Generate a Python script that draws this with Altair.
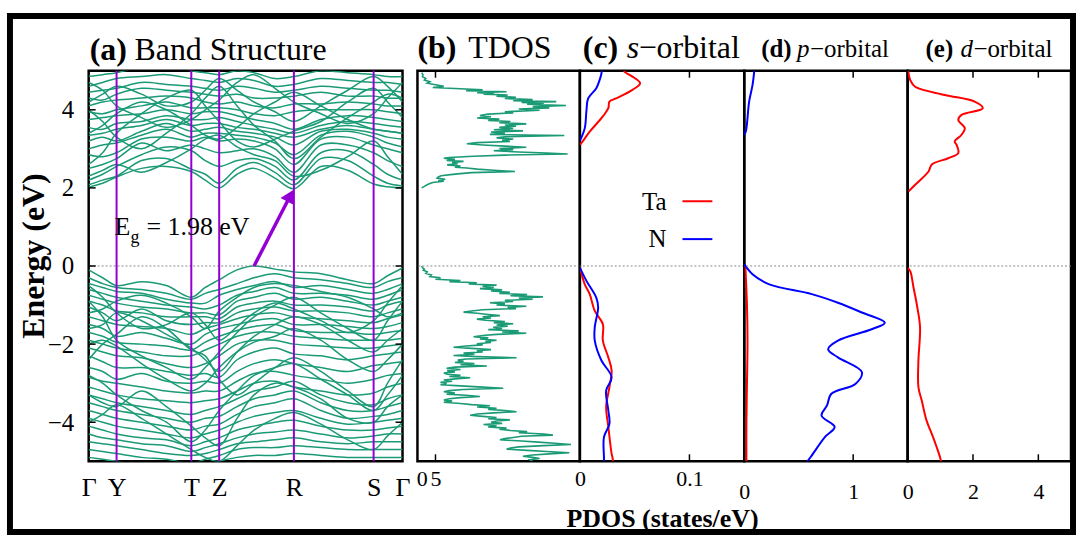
import math
import altair as alt
import pandas as pd

FONT = "Liberation Serif"
GREEN = "#1b9a76"
PURPLE = "#9400d3"
RED = "#ff0000"
BLUE = "#0000ff"

# ---------------- band structure data ----------------
k_pos = [0, 14, 28, 53, 78, 103, 117, 131, 149, 166, 187, 206, 233, 260, 286, 300, 315]
sym_pos = [0, 28, 103, 131, 206, 286, 315]
sym_lab = ["Γ", "Y", "T", "Z", "R", "S", "Γ"]

cb_bands = [
    [2.02, 2.12, 2.28, 2.50, 2.55, 2.42, 2.20, 2.00, 2.35, 2.50, 2.25, 1.98, 2.55, 2.45, 2.10, 2.03, 2.00],
    [2.08, 2.20, 2.30, 2.70, 2.75, 2.48, 2.35, 2.12, 2.50, 2.65, 2.40, 2.08, 2.75, 2.70, 2.30, 2.12, 2.05],
    [2.20, 2.35, 2.55, 2.85, 3.05, 2.95, 2.70, 2.55, 2.70, 2.75, 2.55, 2.20, 2.90, 2.95, 2.60, 2.35, 2.20],
    [2.50, 2.60, 2.75, 3.15, 2.95, 3.10, 3.00, 2.90, 2.95, 3.00, 2.80, 2.40, 3.10, 3.10, 2.90, 2.70, 2.55],
    [2.85, 2.80, 2.90, 3.25, 3.30, 3.20, 3.30, 3.20, 3.25, 3.20, 3.00, 2.60, 3.25, 3.30, 3.10, 3.00, 2.90],
    [3.00, 3.10, 3.15, 3.35, 3.50, 3.30, 3.40, 3.40, 3.35, 3.30, 3.15, 2.85, 3.35, 3.45, 3.30, 3.15, 3.05],
    [3.20, 3.30, 3.20, 3.45, 3.65, 3.45, 3.50, 3.55, 3.45, 3.40, 3.30, 3.10, 3.45, 3.50, 3.40, 3.30, 3.25],
    [3.35, 3.40, 3.50, 3.60, 3.75, 3.60, 3.65, 3.65, 3.55, 3.50, 3.40, 3.30, 3.50, 3.60, 3.50, 3.45, 3.40],
    [3.55, 3.50, 3.65, 3.70, 3.85, 3.75, 3.75, 3.80, 3.70, 3.60, 3.50, 3.40, 3.60, 3.70, 3.65, 3.60, 3.55],
    [3.75, 3.80, 3.85, 3.90, 4.00, 3.90, 3.95, 3.95, 3.85, 3.75, 3.65, 3.50, 3.75, 3.85, 3.80, 3.75, 3.70],
    [3.95, 3.90, 4.00, 4.10, 4.20, 4.05, 4.05, 4.05, 4.00, 3.90, 3.85, 3.95, 4.00, 4.00, 4.00, 3.95, 3.90],
    [4.10, 4.20, 4.25, 4.30, 4.35, 4.30, 4.20, 4.15, 4.20, 4.10, 4.05, 4.15, 4.15, 4.20, 4.15, 4.10, 4.10],
    [4.30, 4.25, 4.40, 4.55, 4.50, 4.45, 4.40, 4.35, 4.40, 4.30, 4.30, 4.35, 4.45, 4.35, 4.35, 4.30, 4.30],
    [4.45, 4.50, 4.55, 4.70, 4.65, 4.60, 4.55, 4.50, 4.60, 4.55, 4.45, 4.50, 4.60, 4.55, 4.50, 4.50, 4.45],
    [4.60, 4.70, 4.80, 4.85, 4.90, 4.80, 4.75, 4.70, 4.80, 4.75, 4.60, 4.65, 4.80, 4.75, 4.70, 4.70, 4.65],
    [4.85, 4.90, 4.95, 5.10, 5.20, 5.00, 4.95, 4.90, 5.00, 4.95, 4.80, 4.85, 5.00, 4.95, 4.90, 4.85, 4.85],
    [4.00, 3.70, 3.30, 3.00, 3.40, 3.90, 4.30, 4.60, 4.10, 3.60, 3.20, 2.75, 3.30, 3.80, 4.20, 4.40, 4.30],
    [2.60, 2.90, 3.40, 3.90, 4.30, 4.50, 4.10, 3.70, 3.20, 3.05, 3.25, 3.45, 3.70, 4.20, 4.55, 4.20, 3.80],
    [4.70, 4.50, 4.10, 3.80, 3.55, 3.75, 4.00, 4.25, 4.70, 4.90, 4.55, 4.20, 3.90, 3.65, 3.90, 4.30, 4.70],
    [3.40, 3.60, 3.90, 4.20, 4.00, 3.60, 3.35, 3.25, 3.55, 3.90, 4.20, 4.45, 4.10, 3.75, 3.50, 3.45, 3.40],
    [2.30, 2.45, 2.60, 2.40, 2.65, 3.00, 3.25, 3.35, 3.05, 2.85, 2.70, 2.30, 2.45, 2.80, 3.20, 2.80, 2.35],
    [4.20, 4.40, 4.60, 4.40, 4.10, 4.20, 4.50, 4.80, 4.50, 4.20, 3.95, 3.70, 4.10, 4.50, 4.85, 4.60, 4.20],
]

vb_bands = [
    [-0.10, -0.30, -0.50, -0.40, -0.50, -0.80, -0.55, -0.35, -0.10, 0.00, -0.08, -0.15, -0.20, -0.35, -0.45, -0.25, -0.05],
    [-0.30, -0.45, -0.55, -0.60, -0.70, -0.85, -0.70, -0.60, -0.45, -0.30, -0.20, -0.30, -0.35, -0.45, -0.55, -0.40, -0.30],
    [-0.45, -0.55, -0.65, -0.70, -0.85, -0.95, -0.95, -0.75, -0.60, -0.50, -0.40, -0.55, -0.50, -0.60, -0.70, -0.60, -0.45],
    [-0.60, -0.70, -0.80, -0.90, -1.00, -1.05, -1.10, -1.00, -0.75, -0.65, -0.55, -0.70, -0.70, -0.75, -0.85, -0.75, -0.60],
    [-0.75, -0.85, -0.95, -1.05, -1.10, -1.20, -1.20, -1.25, -0.90, -0.80, -0.70, -0.85, -0.80, -0.90, -1.00, -0.90, -0.80],
    [-0.90, -1.00, -1.15, -1.20, -1.30, -1.30, -1.30, -1.35, -1.05, -0.95, -0.90, -1.00, -1.00, -1.05, -1.15, -1.00, -0.90],
    [-1.05, -1.20, -1.40, -1.10, -1.40, -1.50, -1.45, -1.45, -1.20, -1.10, -1.05, -1.15, -1.15, -1.20, -1.30, -1.20, -1.10],
    [-1.30, -1.40, -1.50, -1.55, -1.60, -1.75, -1.60, -1.50, -1.35, -1.25, -1.20, -1.30, -1.35, -1.40, -1.45, -1.35, -1.25],
    [-1.50, -1.60, -1.80, -1.70, -1.85, -2.00, -1.75, -1.60, -1.50, -1.40, -1.35, -1.50, -1.50, -1.55, -1.60, -1.55, -1.45],
    [-1.70, -1.80, -1.95, -2.00, -2.05, -2.15, -1.95, -1.80, -1.65, -1.55, -1.50, -1.65, -1.70, -1.70, -1.75, -1.70, -1.65],
    [-1.90, -2.00, -2.10, -2.20, -2.30, -2.30, -2.15, -2.00, -1.80, -1.70, -1.70, -1.80, -1.85, -1.90, -1.90, -1.90, -1.85],
    [-2.10, -2.20, -2.30, -2.35, -2.50, -2.60, -2.50, -2.30, -2.00, -1.90, -1.90, -2.00, -2.05, -2.10, -2.10, -2.05, -2.00],
    [-2.30, -2.45, -2.60, -2.60, -2.70, -2.80, -2.75, -2.85, -2.40, -2.20, -2.10, -2.25, -2.30, -2.40, -2.30, -2.25, -2.20],
    [-2.60, -2.70, -2.90, -2.75, -2.95, -3.00, -2.95, -3.00, -2.70, -2.50, -2.40, -2.50, -2.60, -2.70, -2.55, -2.50, -2.45],
    [-2.85, -2.95, -3.00, -3.10, -3.20, -3.25, -3.20, -3.20, -2.95, -2.75, -2.70, -2.80, -2.90, -3.00, -2.90, -2.80, -2.75],
    [-3.10, -3.20, -3.30, -3.40, -3.45, -3.50, -3.45, -3.40, -3.20, -3.00, -2.95, -3.10, -3.20, -3.30, -3.25, -3.10, -3.00],
    [-3.30, -3.40, -3.50, -3.60, -3.70, -3.80, -3.70, -3.60, -3.40, -3.20, -3.10, -2.95, -3.30, -3.50, -3.55, -3.40, -3.30],
    [-3.50, -3.60, -3.70, -3.80, -3.90, -4.00, -3.90, -3.85, -3.60, -3.40, -3.30, -3.20, -3.50, -3.70, -3.70, -3.60, -3.50],
    [-3.70, -3.80, -3.90, -4.00, -4.10, -4.20, -4.10, -4.05, -3.80, -3.60, -3.50, -3.40, -3.70, -3.90, -3.85, -3.80, -3.70],
    [-3.90, -4.00, -4.10, -4.20, -4.30, -4.40, -4.30, -4.20, -4.00, -3.85, -3.75, -3.70, -3.90, -4.05, -4.00, -3.95, -3.90],
    [-4.10, -4.20, -4.30, -4.40, -4.45, -4.60, -4.50, -4.40, -4.20, -4.10, -4.00, -3.95, -4.10, -4.20, -4.20, -4.15, -4.10],
    [-4.30, -4.40, -4.45, -4.55, -4.60, -4.75, -4.65, -4.55, -4.40, -4.30, -4.25, -4.20, -4.30, -4.40, -4.35, -4.30, -4.30],
    [-4.50, -4.55, -4.60, -4.70, -4.80, -4.85, -4.80, -4.70, -4.55, -4.50, -4.45, -4.40, -4.50, -4.55, -4.50, -4.50, -4.50],
    [-4.70, -4.75, -4.80, -4.90, -4.95, -5.05, -4.95, -4.85, -4.70, -4.65, -4.65, -4.60, -4.65, -4.70, -4.70, -4.70, -4.70],
    [-4.90, -4.95, -5.00, -5.10, -5.10, -5.20, -5.10, -5.00, -4.90, -4.85, -4.85, -4.80, -4.85, -4.90, -4.90, -4.90, -4.90],
    [-1.60, -1.50, -1.20, -1.40, -1.75, -2.10, -2.40, -2.70, -2.20, -1.80, -1.50, -1.30, -1.50, -1.90, -2.20, -1.90, -1.60],
    [-2.40, -2.00, -1.75, -1.30, -1.60, -2.15, -2.30, -2.90, -3.30, -3.00, -2.60, -2.35, -2.70, -3.20, -3.60, -3.00, -2.40],
    [-3.30, -3.50, -3.60, -3.20, -3.60, -4.10, -4.40, -4.60, -3.90, -3.30, -3.00, -3.10, -3.40, -3.90, -4.00, -3.60, -3.30],
    [-0.90, -1.30, -1.90, -2.30, -2.60, -2.90, -2.60, -2.20, -1.70, -1.30, -1.00, -0.80, -1.20, -1.60, -1.90, -1.40, -0.90],
    [-0.50, -0.80, -1.20, -1.60, -1.50, -1.20, -1.50, -1.90, -1.55, -1.20, -0.95, -1.10, -1.40, -1.70, -1.40, -0.95, -0.50],
    [-2.00, -1.90, -2.05, -2.50, -2.90, -3.20, -3.00, -2.60, -2.20, -1.95, -1.80, -1.60, -1.90, -2.40, -2.70, -2.40, -2.00],
    [-2.80, -3.00, -3.30, -3.70, -4.00, -4.50, -4.20, -3.70, -3.20, -2.80, -2.60, -2.50, -2.90, -3.30, -3.70, -3.30, -2.80],
    [-4.00, -3.80, -3.55, -3.90, -4.30, -4.70, -4.90, -5.00, -4.60, -4.20, -3.90, -3.75, -4.05, -4.45, -4.70, -4.35, -4.00],
    [-1.20, -1.10, -0.90, -0.75, -0.95, -1.30, -1.60, -1.15, -0.80, -0.55, -0.45, -0.50, -0.65, -0.80, -1.10, -1.30, -1.20],
]

# gap arrow (VBM -> CBM)
arrow_k = [166, 206]
arrow_E = [0.0, 1.98]

# ---------------- DOS data: (energy eV, states/eV) ----------------
tdos_cb = [
    (4.95, 0), (4.90, 0.5), (4.85, 0.3), (4.80, 1.5), (4.76, 1.0), (4.72, 3.0), (4.68, 2.0), (4.64, 5.0),
    (4.60, 8.0), (4.57, 4.0), (4.54, 14.0), (4.51, 22.0), (4.49, 16.0), (4.46, 30.6), (4.44, 20.0),
    (4.42, 26.0), (4.40, 22.3), (4.38, 31.0), (4.35, 27.0), (4.32, 34.0), (4.29, 30.0), (4.26, 40.0),
    (4.23, 33.0), (4.21, 48.5), (4.19, 36.0), (4.17, 44.0), (4.14, 38.0), (4.11, 52.0), (4.08, 40.0),
    (4.05, 46.0), (4.02, 35.0), (3.99, 42.5), (3.95, 30.0), (3.92, 33.0), (3.89, 24.0), (3.85, 21.0),
    (3.82, 25.0), (3.79, 20.0), (3.76, 28.0), (3.73, 24.0), (3.70, 32.0), (3.67, 28.0), (3.64, 37.7),
    (3.61, 30.0), (3.58, 34.0), (3.55, 28.0), (3.52, 33.0), (3.49, 26.0), (3.46, 36.5), (3.43, 25.0),
    (3.40, 30.0), (3.37, 24.6), (3.34, 51.4), (3.31, 30.0), (3.28, 27.0), (3.25, 33.0), (3.22, 29.0),
    (3.19, 31.8), (3.16, 20.0), (3.13, 16.3), (3.10, 22.0), (3.07, 30.0), (3.04, 37.7), (3.01, 28.0),
    (2.98, 33.0), (2.95, 26.0), (2.92, 35.0), (2.89, 45.0), (2.87, 52.6), (2.84, 30.0), (2.81, 18.7),
    (2.78, 10.0), (2.76, 8.0), (2.73, 12.0), (2.70, 9.0), (2.68, 15.1), (2.65, 11.0), (2.62, 13.0),
    (2.59, 9.2), (2.56, 14.0), (2.53, 12.0), (2.51, 16.3), (2.48, 20.0), (2.45, 26.0), (2.42, 33.6),
    (2.39, 18.0), (2.36, 13.0), (2.34, 10.4), (2.31, 7.0), (2.28, 6.0), (2.25, 5.6), (2.22, 8.5),
    (2.19, 6.0), (2.17, 8.0), (2.14, 4.0), (2.11, 3.0), (2.08, 2.0), (2.04, 1.0), (2.00, 0),
]
tdos_vb = [
    (0.00, 0), (-0.04, 0.3), (-0.08, 1.0), (-0.11, 0.6), (-0.15, 2.0), (-0.19, 1.5), (-0.23, 3.5),
    (-0.27, 3.0), (-0.30, 6.8), (-0.34, 5.0), (-0.37, 14.0), (-0.40, 10.0), (-0.43, 19.9), (-0.46, 17.0),
    (-0.49, 27.0), (-0.52, 22.0), (-0.55, 26.0), (-0.58, 21.0), (-0.61, 29.0), (-0.64, 25.0),
    (-0.67, 31.8), (-0.70, 28.0), (-0.73, 38.0), (-0.76, 32.0), (-0.79, 43.7), (-0.82, 35.0),
    (-0.85, 40.0), (-0.88, 30.0), (-0.91, 33.0), (-0.94, 24.6), (-0.97, 30.0), (-1.00, 27.0),
    (-1.03, 37.7), (-1.06, 31.0), (-1.09, 34.0), (-1.12, 22.0), (-1.15, 18.0), (-1.18, 15.1),
    (-1.21, 20.0), (-1.24, 24.0), (-1.27, 28.2), (-1.30, 22.0), (-1.33, 25.0), (-1.36, 19.9),
    (-1.39, 23.0), (-1.42, 30.0), (-1.45, 26.0), (-1.48, 33.0), (-1.51, 27.0), (-1.54, 31.0),
    (-1.57, 25.8), (-1.60, 29.0), (-1.63, 24.0), (-1.66, 35.0), (-1.69, 29.0), (-1.72, 37.7),
    (-1.75, 27.0), (-1.78, 22.0), (-1.81, 18.7), (-1.84, 24.0), (-1.87, 21.0), (-1.90, 27.0),
    (-1.93, 23.0), (-1.96, 25.0), (-1.99, 19.9), (-2.02, 22.0), (-2.05, 16.0), (-2.08, 11.5),
    (-2.11, 18.0), (-2.14, 25.0), (-2.17, 19.9), (-2.20, 22.0), (-2.23, 15.1), (-2.26, 19.0),
    (-2.29, 11.5), (-2.32, 20.0), (-2.35, 34.2), (-2.38, 16.0), (-2.41, 13.0), (-2.44, 15.1),
    (-2.47, 12.0), (-2.50, 19.0), (-2.53, 14.0), (-2.56, 23.5), (-2.59, 12.0), (-2.62, 9.0),
    (-2.65, 14.0), (-2.68, 9.2), (-2.71, 12.0), (-2.74, 8.0), (-2.77, 9.2), (-2.80, 14.0),
    (-2.83, 10.0), (-2.86, 17.5), (-2.89, 12.0), (-2.92, 8.0), (-2.95, 11.0), (-2.98, 6.8),
    (-3.01, 9.0), (-3.04, 6.8), (-3.07, 14.0), (-3.10, 22.0), (-3.13, 29.4), (-3.16, 15.0),
    (-3.19, 10.0), (-3.22, 8.0), (-3.25, 12.0), (-3.28, 9.0), (-3.31, 16.0), (-3.34, 21.0),
    (-3.37, 14.0), (-3.40, 10.0), (-3.43, 8.0), (-3.46, 11.0), (-3.49, 8.0), (-3.52, 14.0),
    (-3.55, 18.0), (-3.58, 24.6), (-3.61, 20.0), (-3.64, 27.0), (-3.67, 24.0), (-3.70, 30.0),
    (-3.73, 34.2), (-3.76, 26.0), (-3.79, 20.0), (-3.82, 17.5), (-3.85, 22.0), (-3.88, 27.0),
    (-3.91, 24.0), (-3.94, 31.8), (-3.97, 27.0), (-4.00, 25.0), (-4.03, 29.0), (-4.06, 22.3),
    (-4.09, 27.0), (-4.12, 24.0), (-4.15, 30.6), (-4.18, 28.0), (-4.21, 32.0), (-4.24, 38.0),
    (-4.27, 35.0), (-4.30, 44.0), (-4.33, 47.3), (-4.36, 36.0), (-4.39, 33.0), (-4.42, 30.0),
    (-4.45, 28.2), (-4.48, 36.0), (-4.51, 42.0), (-4.54, 48.0), (-4.57, 53.8), (-4.60, 44.0),
    (-4.63, 35.0), (-4.66, 32.0), (-4.69, 30.6), (-4.72, 38.0), (-4.75, 45.0), (-4.78, 53.2),
    (-4.81, 46.0), (-4.84, 40.0), (-4.87, 36.5), (-4.90, 40.0), (-4.93, 42.5), (-4.96, 39.0),
    (-5.00, 40.0),
]

s_ta_cb_E = [3.10, 3.15, 3.44, 3.83, 4.04, 4.21, 4.29, 4.51, 4.68, 4.85, 4.95, 5.0]
s_ta_cb = [0, 0.0015, 0.009, 0.021, 0.026, 0.027, 0.033, 0.048, 0.055, 0.048, 0.042, 0.040]
s_n_cb_E = [3.20, 3.53, 3.97, 4.29, 4.55, 4.76, 4.93, 5.0]
s_n_cb = [0, 0.0045, 0.006, 0.0076, 0.015, 0.018, 0.0197, 0.020]
s_ta_vb_E = [-0.04, -0.47, -0.72, -1.15, -1.49, -1.91, -2.34, -2.68, -3.10, -3.61, -4.12, -4.81, -4.93, -5.0]
s_ta_vb = [0, 0.0045, 0.009, 0.0136, 0.021, 0.021, 0.026, 0.029, 0.027, 0.024, 0.026, 0.029, 0.030, 0.030]
s_n_vb_E = [-0.04, -0.38, -0.81, -1.06, -1.57, -1.91, -2.42, -2.85, -3.19, -3.70, -4.04, -4.38, -4.89, -5.0]
s_n_vb = [0, 0.006, 0.015, 0.0167, 0.0136, 0.0136, 0.0197, 0.029, 0.024, 0.026, 0.027, 0.022, 0.022, 0.022]

p_n_vb_E = [0.05, -0.21, -0.47, -0.72, -0.94, -1.19, -1.45, -1.62, -1.91, -2.13, -2.34, -2.72, -3.02,
            -3.27, -3.57, -3.83, -4.12, -4.38, -4.89, -5.0]
p_n_vb = [0, 0.076, 0.23, 0.62, 0.86, 1.08, 1.29, 1.17, 0.86, 0.77, 0.86, 1.08, 1.02,
          0.80, 0.76, 0.71, 0.83, 0.74, 0.61, 0.58]
p_n_cb_E = [3.36, 3.45, 4.21, 4.63, 4.94, 5.0]
p_n_cb = [0, 0.015, 0.045, 0.076, 0.09, 0.092]
p_ta_vb_E = [0.0, -1.0, -2.0, -3.0, -4.0, -5.0]
p_ta_vb = [0.01, 0.025, 0.03, 0.025, 0.02, 0.02]

d_ta_cb_E = [1.91, 2.08, 2.42, 2.60, 2.76, 2.89, 3.10, 3.19, 3.36, 3.53, 3.74, 3.87, 4.04, 4.21,
             4.38, 4.59, 4.76, 4.93, 5.0]
d_ta_cb = [0.03, 0.23, 0.64, 0.74, 1.24, 1.55, 1.50, 1.44, 1.65, 1.75, 1.55, 1.65, 2.30, 2.05,
           1.14, 0.23, 0.08, 0.03, 0.02]
d_ta_vb_E = [-0.05, -0.13, -0.55, -0.98, -1.57, -2.42, -3.10, -3.44, -3.96, -4.30, -4.64, -4.89, -5.0]
d_ta_vb = [0, 0.08, 0.18, 0.28, 0.38, 0.33, 0.33, 0.43, 0.58, 0.74, 0.89, 0.99, 1.02]

# ---------------- build tables ----------------
rows = []
for i, b in enumerate(cb_bands + vb_bands):
    for k, e in zip(k_pos, b):
        rows.append({"band": i, "k": k, "E": e})
band_df = pd.DataFrame(rows)
sym_df = pd.DataFrame({"k": sym_pos[1:-1]})
zero_df = pd.DataFrame({"E": [0.0]})
one = pd.DataFrame({"a": [0]})


def dos_table(series):
    out = []
    for seg, Es, vs in series:
        for e, v in zip(Es, vs):
            out.append({"seg": seg, "E": e, "v": v})
    return pd.DataFrame(out)


tdos_df = dos_table([("cb", [p[0] for p in tdos_cb], [p[1] for p in tdos_cb]),
                     ("vb", [p[0] for p in tdos_vb], [p[1] for p in tdos_vb])])
s_ta_df = dos_table([("cb", s_ta_cb_E, s_ta_cb), ("vb", s_ta_vb_E, s_ta_vb)])
s_n_df = dos_table([("cb", s_n_cb_E, s_n_cb), ("vb", s_n_vb_E, s_n_vb)])
p_ta_df = dos_table([("vb", p_ta_vb_E, p_ta_vb)])
p_n_df = dos_table([("cb", p_n_cb_E, p_n_cb), ("vb", p_n_vb_E, p_n_vb)])
d_ta_df = dos_table([("cb", d_ta_cb_E, d_ta_cb), ("vb", d_ta_vb_E, d_ta_vb)])

H = 392
ESCALE = alt.Scale(domain=[-5, 5], nice=False, zero=False)


def text(t, x, y, size, weight="normal", style="normal", align="left", baseline="alphabetic",
         angle=0, color="black"):
    return alt.Chart(one).mark_text(text=t, font=FONT, fontSize=size, fontWeight=weight,
                                    fontStyle=style, align=align, baseline=baseline,
                                    angle=angle, color=color).encode(
        x=alt.value(x), y=alt.value(y))


def zero_line():
    return alt.Chart(zero_df).mark_rule(color="#888888", strokeDash=[2, 2], strokeWidth=1).encode(
        y=alt.Y("E:Q", scale=ESCALE))


# ---------------- panel (a) ----------------
Wa = 315
lab_expr = " : ".join(f"datum.value == {p} ? '{l}'" for p, l in zip(sym_pos, sym_lab)) + " : ''"
xa = alt.X("k:Q", scale=alt.Scale(domain=[0, 315], nice=False, zero=False),
           axis=alt.Axis(values=sym_pos, labelExpr=lab_expr, title=None, domain=False, ticks=False,
                         grid=False, labelFont=FONT, labelFontSize=26, labelPadding=13,
                         labelFlush=False, labelOverlap=False, labelColor="black"))
ya = alt.Y("E:Q", scale=ESCALE,
           axis=alt.Axis(values=[-4, -2, 0, 2, 4], title=None, domain=False, ticks=False, grid=False,
                         labelFont=FONT, labelFontSize=25, labelPadding=15, labelColor="black"))

bands = alt.Chart(band_df).mark_line(color=GREEN, strokeWidth=1.5, interpolate="catmull-rom",
                                     clip=True).encode(x=xa, y=ya, detail="band:N")
sym_lines = alt.Chart(sym_df).mark_rule(color=PURPLE, strokeWidth=2).encode(x="k:Q")

# arrow
px_per_k = Wa / 315.0
px_per_E = H / 10.0
dxp = (arrow_k[1] - arrow_k[0]) * px_per_k
dyp = (arrow_E[1] - arrow_E[0]) * px_per_E
ang = math.degrees(math.atan2(dxp, dyp))
L = math.hypot(dxp, dyp)
back = 8.0
head_k = arrow_k[1] - back * dxp / L / px_per_k
head_E = arrow_E[1] - back * dyp / L / px_per_E
arrow_df = pd.DataFrame({"k0": [arrow_k[0]], "E0": [arrow_E[0]], "k1": [head_k], "E1": [head_E]})
arrow_line = alt.Chart(arrow_df).mark_rule(color=PURPLE, strokeWidth=3.5).encode(
    x="k0:Q", y="E0:Q", x2="k1:Q", y2="E1:Q")
arrow_head = alt.Chart(arrow_df).mark_point(shape="triangle-up", filled=True, size=230,
                                            color=PURPLE, opacity=1, angle=ang).encode(
    x="k1:Q", y="E1:Q")

yt_df = pd.DataFrame({"E": [-4, -2, 0, 2, 4]})
ytick_l = alt.Chart(yt_df).mark_rule(color="black", strokeWidth=1.5).encode(
    y="E:Q", x=alt.value(0), x2=alt.value(7))
ytick_r = alt.Chart(yt_df).mark_rule(color="black", strokeWidth=1.5).encode(
    y="E:Q", x=alt.value(Wa - 7), x2=alt.value(Wa))

frame = alt.Chart(one).mark_rect(fill="transparent", stroke="black", strokeWidth=6).encode(
    x=alt.value(-79), x2=alt.value(988), y=alt.value(-55), y2=alt.value(463))

panel_a = alt.layer(
    bands, zero_line(), sym_lines, arrow_line, arrow_head, ytick_l, ytick_r,
    text("(a)", 1, -11, 32, weight="bold"),
    text("Band Structure", 46, -11, 32),
    text("E", 26, 165, 26),
    text("g", 42, 173, 18),
    text("= 1.98 eV", 58, 165, 26),
    text("Energy (eV)", -45, 186, 32, weight="bold", align="center", angle=270),
    frame,
).properties(width=Wa, height=H)

spacer = alt.Chart(one).mark_point(opacity=0).encode(
    x=alt.X("a:Q", axis=None), y=alt.Y("a:Q", axis=None)
).properties(width=15, height=H, view=alt.ViewBackground(strokeOpacity=0))


def dos_panel(curves, dom, tick_vals, label_vals, pad, width_line=2.0, interp="catmull-rom"):
    x = alt.X("v:Q", scale=alt.Scale(domain=dom, nice=False, zero=False),
              axis=alt.Axis(values=label_vals, title=None, domain=False, ticks=False, tickSize=0,
                            grid=False, labelFont=FONT, labelFontSize=22, labelPadding=pad,
                            labelFlush=False, labelOverlap=False, labelColor="black",
                            format="~g"))
    y = alt.Y("E:Q", scale=ESCALE, axis=None)
    layers = []
    for i, (df, col) in enumerate(curves):
        enc = dict(x=x, y=y, order="E:Q", detail="seg:N") if i == 0 else dict(
            x="v:Q", y="E:Q", order="E:Q", detail="seg:N")
        layers.append(alt.Chart(df).mark_line(strokeWidth=width_line, interpolate=interp,
                                              clip=True, color=col).encode(**enc))
    tdf = pd.DataFrame({"v": tick_vals})
    t_top = alt.Chart(tdf).mark_rule(color="black", strokeWidth=1.5).encode(
        x="v:Q", y=alt.value(0), y2=alt.value(7))
    t_bot = alt.Chart(tdf).mark_rule(color="black", strokeWidth=1.5).encode(
        x="v:Q", y=alt.value(H - 7), y2=alt.value(H))
    return layers + [zero_line(), t_top, t_bot]


pb = dos_panel([(tdos_df, GREEN)], [-1.5, 57], [5], [0, 5], 7, width_line=1.6, interp="linear")
panel_b = alt.layer(
    *pb,
    text("(b)", 0, -13, 32, weight="bold"),
    text("TDOS", 51, -13, 32),
).properties(width=163, height=H)

pc = dos_panel([(s_ta_df, RED), (s_n_df, BLUE)], [0, 0.15], [0.1], [0, 0.1], 7)
leg_ta = alt.Chart(one).mark_rule(color=RED, strokeWidth=2).encode(
    x=alt.value(103), x2=alt.value(133), y=alt.value(131))
leg_n = alt.Chart(one).mark_rule(color=BLUE, strokeWidth=2).encode(
    x=alt.value(103), x2=alt.value(133), y=alt.value(169))
panel_c = alt.layer(
    *pc,
    leg_ta, leg_n,
    text("Ta", 87, 132, 25, align="right", baseline="middle"),
    text("N", 87, 169, 25, align="right", baseline="middle"),
    text("(c)", 3, -13, 32, weight="bold"),
    text("s", 47, -13, 32, style="italic"),
    text("−orbital", 59, -13, 32),
    text("PDOS (states/eV)", 83, 458, 26, weight="bold", align="center"),
).properties(width=165, height=H)

pd_ = dos_panel([(p_ta_df, RED), (p_n_df, BLUE)], [0, 1.5], [1], [0, 1], 20)
panel_d = alt.layer(
    *pd_,
    text("(d)", 17, -14, 25, weight="bold"),
    text("p", 53, -14, 25, style="italic"),
    text("−orbital", 66, -14, 25),
).properties(width=164, height=H)

pe = dos_panel([(d_ta_df, RED)], [0, 5], [2, 4], [0, 2, 4], 20)
panel_e = alt.layer(
    *pe,
    text("(e)", 18, -14, 25, weight="bold"),
    text("d", 53, -14, 25, style="italic"),
    text("−orbital", 66, -14, 25),
).properties(width=164, height=H)

chart = alt.hconcat(panel_a, spacer, panel_b, panel_c, panel_d, panel_e, spacing=0, bounds="flush")
chart = chart.properties(
    padding={"left": 5, "top": 10, "right": 0, "bottom": 0}, background="white"
).configure_view(stroke="black", strokeWidth=2.5).configure_axis(labelFont=FONT)

chart.save("out.html", embed_options={"renderer": "svg", "actions": False})
